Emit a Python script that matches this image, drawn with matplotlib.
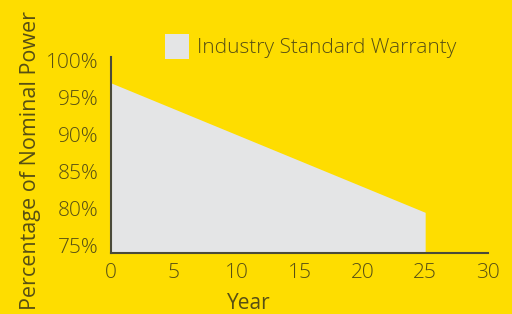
import matplotlib.pyplot as plt

# datos
years = [0, 25]
warranty = [97, 79.5]
x_ticks = [0, 5, 10, 15, 20, 25, 30]
y_ticks = [75, 80, 85, 90, 95, 100]
y_tick_labels = ['75%', '80%', '85%', '90%', '95%', '100%']

AMARILLO = '#FEDD00'
GRIS = '#E4E5E6'
TEXTO = '#574F14'

plt.rcParams['font.family'] = ['Open Sans', 'DejaVu Sans']
plt.rcParams['font.weight'] = 'light'

fig = plt.figure(figsize=(5.12, 3.14), dpi=100, facecolor=AMARILLO)
ax = fig.add_axes([111 / 512, 1 - 253 / 314, (488 - 111) / 512, (253 - 57) / 314])
ax.set_facecolor(AMARILLO)

ax.fill_between(years, 74, warranty, color=GRIS, linewidth=0,
                label='Industry Standard Warranty')

ax.set_xlim(0, 30)
ax.set_ylim(74, 100.5)
ax.set_xticks(x_ticks)
ax.set_yticks(y_ticks)
ax.set_yticklabels(y_tick_labels)

for lado in ['top', 'right']:
    ax.spines[lado].set_visible(False)
for lado in ['left', 'bottom']:
    ax.spines[lado].set_color('#4a4a3a')
    ax.spines[lado].set_linewidth(1.5)
    ax.spines[lado].set_zorder(3)

ax.tick_params(length=0, labelsize=15, colors=TEXTO)
ax.tick_params(axis='y', pad=9)
ax.tick_params(axis='x', pad=7)

ax.set_xlabel('Year', fontsize=15, color=TEXTO)
ax.xaxis.set_label_coords(0.365, -0.205)
ax.set_ylabel('Percentage of Nominal Power', fontsize=15.5, color=TEXTO)
ax.yaxis.set_label_coords(-0.185, 0.47)

leg = ax.legend(loc='upper left', bbox_to_anchor=(0.12, 1.16), frameon=False,
                fontsize=15, handlelength=1.15, handleheight=1.45,
                handletextpad=0.4, borderaxespad=0)
for t in leg.get_texts():
    t.set_color(TEXTO)

fig.savefig('out.png', dpi=100, facecolor=AMARILLO)
